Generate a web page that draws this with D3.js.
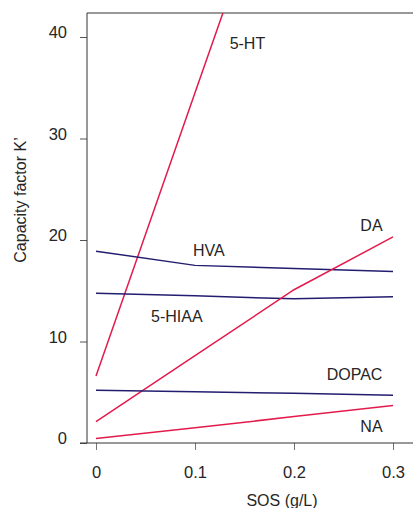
<!DOCTYPE html>
<html>
<head>
<meta charset="utf-8">
<script src="https://cdn.jsdelivr.net/npm/d3@7"></script>
<style>
  body { margin: 0; background: #fff; }
  text { font-family: "Liberation Sans", Arial, sans-serif; fill: #262626; }
</style>
</head>
<body>
<script>
// chart size
var svgWidth = 413;
var svgHeight = 508;

// data
var sos = [0, 0.1, 0.2, 0.3];
var ht5 = [6.6, 34.5, 62.4, 90.3];
var hva = [18.9, 17.5, 17.2, 16.9];
var hiaa5 = [14.75, 14.5, 14.2, 14.4];
var da = [2.1, 8.6, 15.1, 20.3];
var dopac = [5.2, 5.05, 4.9, 4.7];
var na = [0.45, 1.5, 2.6, 3.7];

var xTicks = [0, 0.1, 0.2, 0.3];
var yTicks = [0, 10, 20, 30, 40];

var red = "#e31b4c";
var navy = "#231d70";

var svg = d3.select("body")
    .append("svg")
    .attr("width", svgWidth)
    .attr("height", svgHeight);

var x = d3.scaleLinear().domain([0, 0.3]).range([96, 393]);
var y = d3.scaleLinear().domain([0, 40]).range([443, 37]);

// plot area clip
svg.append("clipPath").attr("id", "plot")
    .append("rect")
    .attr("x", 87).attr("y", 13)
    .attr("width", svgWidth - 87).attr("height", 443 - 13);

// y axis
var yAxis = svg.append("g")
    .attr("transform", "translate(87,0)")
    .call(d3.axisLeft(y).tickValues(yTicks).tickSize(7).tickSizeOuter(0).tickFormat(d3.format("d")));
yAxis.select(".domain").remove();
yAxis.selectAll("line").attr("stroke", "#555");
yAxis.selectAll("text")
    .attr("x", -20)
    .attr("dy", "0.05em")
    .style("font-size", "16.5px")
    .style("font-family", "Liberation Sans, Arial, sans-serif")
    .attr("fill", "#262626");

// x axis
var xAxis = svg.append("g")
    .attr("transform", "translate(0,443)")
    .call(d3.axisBottom(x).tickValues(xTicks).tickSize(7).tickSizeOuter(0).tickFormat(function(d){ return d === 0 ? "0" : d3.format(".1f")(d); }));
xAxis.select(".domain").remove();
xAxis.selectAll("line").attr("stroke", "#777");
xAxis.selectAll("text")
    .attr("y", 23)
    .style("font-size", "16.5px")
    .style("font-family", "Liberation Sans, Arial, sans-serif")
    .attr("fill", "#262626");

// frame lines: left, top, bottom
svg.append("line").attr("x1", 87).attr("x2", 87).attr("y1", 13).attr("y2", 443)
    .attr("stroke", "#333").attr("stroke-width", 1);
svg.append("line").attr("x1", 87).attr("x2", svgWidth).attr("y1", 13).attr("y2", 13)
    .attr("stroke", "#333").attr("stroke-width", 1);
svg.append("line").attr("x1", 80).attr("x2", svgWidth).attr("y1", 443).attr("y2", 443)
    .attr("stroke", "#333").attr("stroke-width", 1);

// series
var series = [
    { name: "5-HT", values: ht5, color: red },
    { name: "HVA", values: hva, color: navy },
    { name: "5-HIAA", values: hiaa5, color: navy },
    { name: "DA", values: da, color: red },
    { name: "DOPAC", values: dopac, color: navy },
    { name: "NA", values: na, color: red }
];

var line = d3.line()
    .x(function(d, i){ return x(sos[i]); })
    .y(function(d){ return y(d); });

svg.append("g").attr("clip-path", "url(#plot)")
    .selectAll("path")
    .data(series)
    .enter()
    .append("path")
    .attr("d", function(d){ return line(d.values); })
    .attr("fill", "none")
    .attr("stroke", function(d){ return d.color; })
    .attr("stroke-width", 1.5);

// series labels (position in data units)
var labels = [
    { text: "5-HT", sx: 0.135, k: 39.4 },
    { text: "HVA", sx: 0.098, k: 19.0 },
    { text: "DA", sx: 0.267, k: 21.4 },
    { text: "5-HIAA", sx: 0.0556, k: 12.5 },
    { text: "DOPAC", sx: 0.233, k: 6.75 },
    { text: "NA", sx: 0.267, k: 1.65 }
];

svg.selectAll(".lbl")
    .data(labels)
    .enter()
    .append("text")
    .attr("class", "lbl")
    .attr("x", function(d){ return x(d.sx); })
    .attr("y", function(d){ return y(d.k); })
    .attr("dy", "0.35em")
    .style("font-size", "16px")
    .text(function(d){ return d.text; });

// axis titles
svg.append("text")
    .attr("x", 282).attr("y", 506)
    .attr("text-anchor", "middle")
    .style("font-size", "16px")
    .text("SOS (g/L)");

svg.append("text")
    .attr("transform", "translate(26,200) rotate(-90)")
    .attr("text-anchor", "middle")
    .style("font-size", "16px")
    .text("Capacity factor K\u2019");
</script>
</body>
</html>
